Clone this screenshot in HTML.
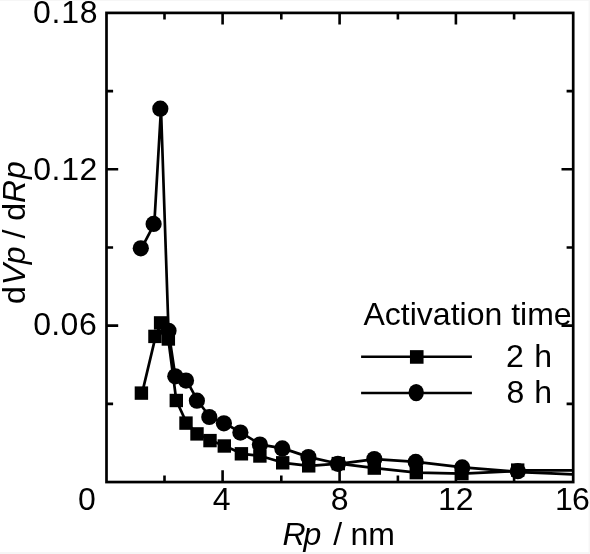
<!DOCTYPE html>
<html><head><meta charset="utf-8"><title>Pore size distribution</title>
<style>html,body{margin:0;padding:0;background:#fff;}body{width:590px;height:554px;overflow:hidden;}svg{display:block;filter:blur(0.4px);}text{font-family:"Liberation Sans",sans-serif;font-size:32px;fill:#000;}.i{font-style:italic;}</style></head><body>
<svg width="590" height="554" viewBox="0 0 590 554">
<rect x="0" y="0" width="590" height="554" fill="#fff"/>
<rect x="0" y="552" width="590" height="2" fill="#f6f6f6"/>
<rect x="588.6" y="0" width="1.4" height="554" fill="#f6f6f6"/>
<rect x="0" y="0" width="590" height="1" fill="#f6f6f6"/>
<rect x="106.5" y="12.9" width="466.70" height="469.15" fill="none" stroke="#000" stroke-width="2.7"/>
<path d="M164.50 482.05 v-6.6 M164.50 12.9 v6.6 M222.60 482.05 v-11.7 M222.60 12.9 v11.7 M281.30 482.05 v-6.6 M281.30 12.9 v6.6 M339.60 482.05 v-11.7 M339.60 12.9 v11.7 M397.90 482.05 v-6.6 M397.90 12.9 v6.6 M455.90 482.05 v-11.7 M455.90 12.9 v11.7 M514.10 482.05 v-6.6 M514.10 12.9 v6.6 M106.5 403.86 h6.6 M573.2 403.86 h-6.6 M106.5 325.67 h11.7 M573.2 325.67 h-11.7 M106.5 247.47 h6.6 M573.2 247.47 h-6.6 M106.5 169.28 h11.7 M573.2 169.28 h-11.7 M106.5 91.09 h6.6 M573.2 91.09 h-6.6" stroke="#000" stroke-width="2.6" fill="none"/>
<polyline points="142.1,393.1 155.6,336.4 161.3,322.9 168.3,339.0 176.3,400.5 186.7,423.1 197.7,433.9 210.7,440.6 225.0,446.0 242.1,453.8 260.6,456.0 283.4,462.8 309.4,465.9 339.0,463.6 375.0,468.1 417.0,472.6 462.6,473.6 509.7,471.3 525.7,472.3 550.7,473.4 572.5,474.3" fill="none" stroke="#000" stroke-width="2.7" stroke-linejoin="round"/>
<polyline points="141.5,248.3 154.3,223.9 161.0,108.7 168.5,330.8 175.3,376.3 186.7,380.6 197.6,400.7 210.0,417.0 224.6,423.3 241.1,432.6 260.6,444.6 283.0,448.4 309.1,457.1 338.6,463.8 375.0,459.1 416.4,461.9 462.9,467.4 509.7,471.2 525.7,470.3 572.5,470.3" fill="none" stroke="#000" stroke-width="2.7" stroke-linejoin="round"/>
<rect x="134.70" y="386.40" width="13.4" height="13.4" fill="#000"/>
<rect x="148.25" y="329.70" width="13.4" height="13.4" fill="#000"/>
<rect x="153.90" y="316.20" width="13.4" height="13.4" fill="#000"/>
<rect x="161.65" y="332.30" width="13.4" height="13.4" fill="#000"/>
<rect x="169.60" y="393.80" width="13.4" height="13.4" fill="#000"/>
<rect x="179.30" y="416.40" width="13.4" height="13.4" fill="#000"/>
<rect x="190.30" y="427.20" width="13.4" height="13.4" fill="#000"/>
<rect x="203.30" y="433.90" width="13.4" height="13.4" fill="#000"/>
<rect x="217.60" y="439.30" width="13.4" height="13.4" fill="#000"/>
<rect x="234.70" y="447.10" width="13.4" height="13.4" fill="#000"/>
<rect x="253.20" y="449.30" width="13.4" height="13.4" fill="#000"/>
<rect x="276.00" y="456.10" width="13.4" height="13.4" fill="#000"/>
<rect x="302.00" y="459.15" width="13.4" height="13.4" fill="#000"/>
<rect x="331.60" y="456.90" width="13.4" height="13.4" fill="#000"/>
<rect x="367.60" y="461.40" width="13.4" height="13.4" fill="#000"/>
<rect x="409.60" y="465.95" width="13.4" height="13.4" fill="#000"/>
<rect x="455.20" y="466.90" width="13.4" height="13.4" fill="#000"/>
<rect x="511.00" y="463.40" width="13.4" height="13.4" fill="#000"/>
<circle cx="140.8" cy="248.3" r="8.1" fill="#000"/>
<circle cx="153.6" cy="223.9" r="8.1" fill="#000"/>
<circle cx="160.3" cy="108.7" r="8.1" fill="#000"/>
<circle cx="168.5" cy="330.8" r="8.1" fill="#000"/>
<circle cx="175.3" cy="376.3" r="8.1" fill="#000"/>
<circle cx="186.0" cy="380.6" r="8.1" fill="#000"/>
<circle cx="196.9" cy="400.7" r="8.1" fill="#000"/>
<circle cx="209.3" cy="417" r="8.1" fill="#000"/>
<circle cx="223.9" cy="423.3" r="8.1" fill="#000"/>
<circle cx="240.4" cy="432.6" r="8.1" fill="#000"/>
<circle cx="259.9" cy="444.6" r="8.1" fill="#000"/>
<circle cx="282.3" cy="448.4" r="8.1" fill="#000"/>
<circle cx="308.4" cy="457.1" r="8.1" fill="#000"/>
<circle cx="337.9" cy="463.8" r="8.1" fill="#000"/>
<circle cx="374.3" cy="459.1" r="8.1" fill="#000"/>
<circle cx="415.7" cy="461.9" r="8.1" fill="#000"/>
<circle cx="462.2" cy="467.4" r="8.1" fill="#000"/>
<circle cx="517.8" cy="471.2" r="8.1" fill="#000"/>
<path d="M361.1 356.75 H471.9 M361.1 393 H471.9" stroke="#000" stroke-width="2.6" fill="none"/>
<rect x="409.95" y="350.15" width="13.6" height="13.6" fill="#000"/>
<ellipse cx="416.2" cy="392.6" rx="7.7" ry="8.6" fill="#000"/>
<text x="363.5" y="325">Activation time</text>
<text y="367.1" x="506 523.8 534.3">2 h</text>
<text y="403" x="506.6 524.4 534.3">8 h</text>
<text y="22.8" x="33.1 51.4 61.3 79.7">0.18</text>
<text y="179.5" x="33.3 51.4 61.3 79.4">0.12</text>
<text y="335.1" x="33.3 51.3 60.6 79.0">0.06</text>
<text x="78.1" y="510.1">0</text>
<text x="212.7" y="510.3">4</text>
<text x="330.8" y="510">8</text>
<text x="438" y="510.1">12</text>
<text y="510.1" x="555.1 571.9">16</text>
<text y="544.9"><tspan class="i" x="282.4 303.5">Rp</tspan><tspan x="333.2 342.1 350.5 368.2">/ nm</tspan></text>
<text transform="translate(25.3,304.3) rotate(-90)"><tspan x="0.2">d</tspan><tspan class="i" x="19.0 40.0">Vp</tspan><tspan x="56.9 65.8 74.7 83.6"> / d</tspan><tspan class="i" x="101.4 125.2">Rp</tspan></text>
</svg></body></html>
